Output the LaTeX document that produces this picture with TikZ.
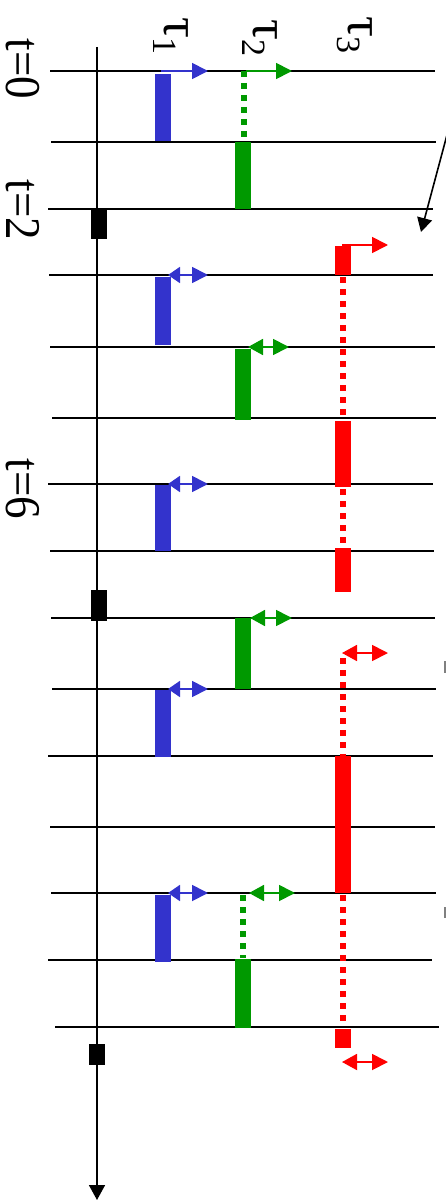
\documentclass[tikz,border=0pt]{standalone}
\usepackage{fontspec}
\setmainfont{Liberation Serif}
\usetikzlibrary{arrows.meta}
\definecolor{tblue}{RGB}{51,51,204}
\definecolor{tgreen}{RGB}{0,153,0}
\definecolor{tred}{RGB}{255,0,0}
\newcommand{\tsub}[1]{\raisebox{-0.22em}{\fontsize{34}{34}\selectfont #1}}
\newcommand{\tlab}[1]{\scalebox{0.9}[1]{#1}}
\begin{document}
\begin{tikzpicture}[x=1pt,y=-1pt,
  hline/.style={line width=1.6pt},
  dots/.style={line width=6pt, dash pattern=on 6pt off 6pt},
  stip/.style={line width=1.8pt, -{Triangle[length=16pt,width=16pt]}},
  dtip/.style={line width=1.8pt, {Triangle[length=15pt,width=16pt]}-{Triangle[length=16pt,width=16pt]}},
  btip/.style={line width=1.8pt, {Triangle[length=12pt,width=16pt]}-{Triangle[length=16pt,width=16pt]}},
  lbl/.style={rotate=-90, font=\fontsize{52}{56}\selectfont, inner sep=0pt},
  tlbl/.style={lbl, font=\fontsize{50}{54}\selectfont, text height=33pt, text depth=0pt}
]
\useasboundingbox (0,0) rectangle (446,1201);

% horizontal time lines
\foreach \y/\a/\b in {71/50/435, 142/51/436, 209/48/433, 275/49/433, 347/50/435,
  418/52/436, 484/48/433, 551/50/434, 618/51/435, 689/52/436, 756/48/433,
  827/50/435, 893/51/436, 960/48/432, 1027/55/439}
  \draw[hline] (\a,\y) -- (\b,\y);

% time axis
\coordinate (axtop) at (97,47);
\coordinate (axend) at (97,1200);
\draw[line width=1.6pt, -{Triangle[length=15pt,width=16pt]}] (axtop) -- (axend);

% black markers on axis
\fill (90.5,209) rectangle (106.5,239);
\fill (91,590) rectangle (107,621);
\fill (89,1044) rectangle (105,1065);

% tau1 (blue)
\foreach \a/\b in {74/141, 277/345, 485/551, 690/757, 895/962}
  \fill[tblue] (154.7,\a) rectangle (170.7,\b);
\coordinate (b0s) at (161,71); \coordinate (b0e) at (208,71);
\draw[stip, tblue] (b0s) -- (b0e);
\foreach \y in {275,484,689,893}
  \draw[btip, tblue] (168,\y) -- (208,\y);

% tau2 (green)
\draw[dots, tgreen] (243.5,71) -- (243.5,137);
\draw[dots, tgreen] (243,895) -- (243,958);
\foreach \a/\b in {142/209, 349/420, 618/689, 959/1028}
  \fill[tgreen] (235,\a) rectangle (251,\b);
\coordinate (g0s) at (246,71); \coordinate (g0e) at (292,71);
\draw[stip, tgreen] (g0s) -- (g0e);
\draw[dtip, tgreen] (248,347) -- (289,347);
\draw[dtip, tgreen] (250,618) -- (292,618);
\draw[dtip, tgreen] (249,893) -- (295,893);

% tau3 (red)
\draw[dots, tred] (342.5,277) -- (342.5,418);
\draw[dots, tred] (342.5,489) -- (342.5,548);
\draw[dots, tred] (342.5,658) -- (342.5,756);
\draw[dots, tred] (342.5,895) -- (342.5,1025);
\foreach \a/\b in {245.7/275, 420.7/486.7, 548/592, 756/893, 1029/1048}
  \fill[tred] (334.7,\a) rectangle (350.7,\b);
\coordinate (r0s) at (342,245); \coordinate (r0e) at (388,245);
\draw[stip, tred] (r0s) -- (r0e);
\draw[dtip, tred] (342,653) -- (388,653);
\draw[dtip, tred] (342,1062) -- (388,1062);

% pointer arrow at top right
\coordinate (pa) at (447.5,133);
\coordinate (pb) at (421,232);
\draw[line width=1.6pt, -{Triangle[length=14pt,width=15pt]}] (pa) -- (pb);

% small gray marks at right edge
\draw[gray, line width=1.5pt] (445,661) -- (445,673);
\draw[gray, line width=1.5pt] (445,907) -- (445,918);

% labels
\node[tlbl] (t0) at (23,69) {\tlab{t=0}};
\node[tlbl] (t2) at (23,210) {\tlab{t=2}};
\node[tlbl] (t6) at (23,489) {\tlab{t=6}};
\node[lbl] (tau1) at (171,36) {τ\tsub{1}};
\node[lbl] (tau2) at (260,38) {τ\tsub{2}};
\node[lbl] (tau3) at (355,35) {τ\tsub{3}};
\end{tikzpicture}
\end{document}
